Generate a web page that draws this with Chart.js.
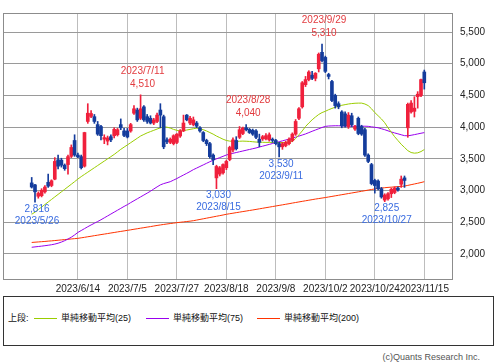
<!DOCTYPE html>
<html>
<head>
<meta charset="utf-8">
<script src="https://cdn.jsdelivr.net/npm/chart.js@4.4.0/dist/chart.umd.min.js"></script>
<style>
  body { margin: 0; width: 496px; height: 362px; background: #fff; position: relative; overflow: hidden;
         font-family: "Liberation Sans", "Noto Sans CJK JP", sans-serif; }
  #wrap { position: absolute; left: 0; top: 0; width: 496px; height: 296px; }
  #legend { position: absolute; left: 3px; top: 296px; width: 489px; height: 48px; border: 1px solid #333; font-size: 9px; color: #111; }
  #legend span { position: absolute; top: 15px; line-height: 12px; white-space: nowrap; }
  #legend i { position: absolute; top: 21px; height: 1px; width: 23px; }
  #copy { position: absolute; right: 16px; top: 352px; font-size: 9px; color: #555; white-space: nowrap; }
</style>
</head>
<body>
<div id="wrap"><canvas id="myChart" width="496" height="296"></canvas></div>
<div id="legend"></div>
<div id="copy">(c)Quants Research Inc.</div>
<script>
// trading days shown on the chart
const dates = [
  '2023/5/25', '2023/5/26', '2023/5/29', '2023/5/30', '2023/5/31',
  '2023/6/1', '2023/6/2', '2023/6/5', '2023/6/6', '2023/6/7', '2023/6/8', '2023/6/9', '2023/6/12', '2023/6/13', '2023/6/14',
  '2023/6/15', '2023/6/16', '2023/6/19', '2023/6/20', '2023/6/21', '2023/6/22', '2023/6/23', '2023/6/26', '2023/6/27',
  '2023/6/28', '2023/6/29', '2023/6/30',
  '2023/7/3', '2023/7/4', '2023/7/5', '2023/7/6', '2023/7/7', '2023/7/10', '2023/7/11', '2023/7/12', '2023/7/13', '2023/7/14',
  '2023/7/18', '2023/7/19', '2023/7/20', '2023/7/21', '2023/7/24', '2023/7/25', '2023/7/26', '2023/7/27', '2023/7/28', '2023/7/31',
  '2023/8/1', '2023/8/2', '2023/8/3', '2023/8/4', '2023/8/7', '2023/8/8', '2023/8/9', '2023/8/10', '2023/8/14', '2023/8/15',
  '2023/8/16', '2023/8/17', '2023/8/18', '2023/8/21', '2023/8/22', '2023/8/23', '2023/8/24', '2023/8/25', '2023/8/28',
  '2023/8/29', '2023/8/30', '2023/8/31',
  '2023/9/1', '2023/9/4', '2023/9/5', '2023/9/6', '2023/9/7', '2023/9/8', '2023/9/11', '2023/9/12', '2023/9/13', '2023/9/14',
  '2023/9/15', '2023/9/19', '2023/9/20', '2023/9/21', '2023/9/22', '2023/9/25', '2023/9/26', '2023/9/27', '2023/9/28', '2023/9/29',
  '2023/10/2', '2023/10/3', '2023/10/4', '2023/10/5', '2023/10/6', '2023/10/10', '2023/10/11', '2023/10/12', '2023/10/13',
  '2023/10/16', '2023/10/17', '2023/10/18', '2023/10/19', '2023/10/20', '2023/10/23', '2023/10/24', '2023/10/25', '2023/10/26',
  '2023/10/27', '2023/10/30', '2023/10/31',
  '2023/11/1', '2023/11/2', '2023/11/6', '2023/11/7', '2023/11/8', '2023/11/9', '2023/11/10', '2023/11/13', '2023/11/14', '2023/11/15'
];

const opens = [
  3121, 3090, 2910, 2920, 2980, 3130, 3080, 3180, 3485, 3480, 3400, 3410, 3540, 3790, 3560, 3535, 3385, 4090, 4170, 4165,
  4040, 4010, 3810, 3780, 3850, 3865, 3880, 4040, 3940, 3940, 3940, 4220, 4270, 4140, 4320, 4165, 4140, 4065, 4090, 4270,
  4165, 3800, 3760, 3740, 3760, 3860, 3940, 4190, 4065, 4040, 4065, 3990, 3915, 3790, 3740, 3560, 3200, 3260, 3280, 3360,
  3490, 3640, 3790, 3840, 3900, 3990, 3965, 3950, 3940, 3810, 3815, 3815, 3800, 3810, 3790, 3740, 3690, 3710, 3740, 3790,
  3890, 4140, 4320, 4670, 4750, 4820, 4770, 4920, 5180, 5100, 4830, 4720, 4500, 4370, 4240, 4210, 4010, 4180, 3970, 4140,
  4010, 3960, 3560, 3410, 3160, 3150, 3030, 2850, 2870, 2950, 2970, 3040, 3100, 3200, 3990, 4240, 4250, 4480, 4500, 4870
];
const highs = [
  3207, 3100, 2980, 3030, 3080, 3260, 3170, 3520, 3560, 3510, 3420, 3560, 3720, 3880, 3590, 3560, 3920, 4370, 4260, 4200,
  4090, 4030, 3880, 3860, 3880, 3990, 3980, 4130, 3980, 3980, 4060, 4340, 4300, 4510, 4340, 4200, 4180, 4140, 4220, 4370,
  4190, 3830, 3830, 3880, 3900, 3960, 4190, 4200, 4170, 4160, 4090, 4010, 3930, 3810, 3760, 3580, 3400, 3380, 3420, 3480,
  3700, 3830, 3850, 4010, 4000, 4040, 3980, 3970, 3960, 3890, 3870, 3900, 3910, 3830, 3810, 3760, 3760, 3780, 3830, 3910,
  4120, 4310, 4720, 4800, 4890, 4880, 4860, 5170, 5310, 5120, 4850, 4740, 4520, 4400, 4260, 4240, 4230, 4220, 4030, 4160,
  4030, 3980, 3580, 3430, 3180, 3170, 3050, 2950, 2970, 3040, 3060, 3060, 3230, 3230, 4380, 4420, 4480, 4560, 4760, 4900
];
const lows = [
  3040, 2816, 2880, 2900, 2960, 3050, 3060, 3170, 3340, 3370, 3320, 3260, 3520, 3540, 3520, 3340, 3370, 4060, 4150, 4060,
  3870, 3800, 3740, 3720, 3770, 3830, 3860, 3960, 3850, 3830, 3920, 4200, 4090, 4120, 4090, 4060, 4050, 4040, 4070, 3990,
  3660, 3740, 3740, 3720, 3740, 3840, 3930, 4100, 4040, 4020, 3990, 3920, 3770, 3710, 3510, 3410, 3030, 3230, 3260, 3330,
  3470, 3610, 3640, 3820, 3880, 3940, 3900, 3870, 3820, 3690, 3790, 3800, 3780, 3760, 3720, 3530, 3650, 3690, 3720, 3770,
  3870, 4120, 4300, 4640, 4730, 4750, 4730, 4870, 5030, 4860, 4760, 4400, 4300, 4290, 3990, 4000, 3980, 4010, 3950, 3880,
  3870, 3540, 3440, 3090, 2960, 3010, 2880, 2825, 2850, 2890, 2950, 2990, 3050, 3050, 3840, 4220, 4160, 4300, 4480, 4600
];
const closes = [
  3056, 2980, 2955, 3005, 3055, 3070, 3155, 3460, 3385, 3400, 3345, 3535, 3680, 3560, 3530, 3360, 3915, 4220, 4215, 4090,
  3890, 3865, 3835, 3830, 3800, 3965, 3960, 3990, 3870, 3845, 4040, 4290, 4115, 4290, 4115, 4090, 4065, 4115, 4190, 4190,
  3690, 3770, 3810, 3865, 3890, 3940, 4065, 4115, 4140, 4115, 4015, 3940, 3790, 3740, 3535, 3485, 3380, 3360, 3410, 3460,
  3680, 3800, 3660, 3960, 3985, 3960, 3915, 3890, 3840, 3760, 3850, 3865, 3880, 3790, 3740, 3690, 3740, 3760, 3810, 3890,
  4090, 4290, 4700, 4750, 4870, 4770, 4850, 5150, 5050, 4880, 4800, 4420, 4340, 4320, 4020, 4020, 4190, 4040, 4010, 3900,
  3890, 3560, 3460, 3110, 3080, 3030, 2900, 2930, 2950, 3020, 3040, 3010, 3180, 3160, 4360, 4380, 4300, 4520, 4750, 4700
];

// moving averages
const ma25 = [
  2626, 2660, 2700, 2740, 2780, 2820, 2860, 2900, 2940, 2980, 3020, 3060, 3100, 3140, 3182, 3220, 3255, 3290, 3325, 3360,
  3395, 3430, 3465, 3500, 3535, 3570, 3610, 3650, 3685, 3720, 3755, 3790, 3825, 3860, 3885, 3910, 3930, 3950, 3970, 3990,
  4005, 4000, 3985, 3965, 3950, 3940, 3945, 3955, 3965, 3975, 3985, 3975, 3960, 3940, 3915, 3890, 3860, 3835, 3810, 3790,
  3780, 3775, 3775, 3778, 3780, 3778, 3775, 3770, 3765, 3763, 3762, 3760, 3760, 3760, 3760, 3758, 3758, 3760, 3765, 3775,
  3820, 3880, 3940, 4010, 4065, 4116, 4160, 4200, 4230, 4250, 4275, 4295, 4315, 4330, 4345, 4355, 4365, 4372, 4377, 4379,
  4379, 4365, 4340, 4290, 4230, 4180, 4130, 4070, 3990, 3920, 3850, 3790, 3730, 3680, 3630, 3600, 3590, 3595, 3615, 3647
];
const ma75 = [
  2106, 2112, 2118, 2124, 2131, 2138, 2146, 2156, 2170, 2188, 2210, 2236, 2265, 2300, 2340, 2370, 2400, 2430, 2458, 2485,
  2512, 2540, 2570, 2600, 2630, 2660, 2690, 2720, 2750, 2778, 2810, 2840, 2870, 2900, 2930, 2960, 2990, 3025, 3058, 3090,
  3110, 3125, 3140, 3165, 3190, 3218, 3245, 3272, 3300, 3330, 3355, 3380, 3405, 3430, 3455, 3478, 3500, 3520, 3540, 3561,
  3575, 3588, 3600, 3612, 3624, 3636, 3648, 3660, 3672, 3687, 3700, 3714, 3728, 3742, 3756, 3770, 3784, 3798, 3812, 3825,
  3842, 3859, 3876, 3893, 3914, 3935, 3955, 3975, 3995, 4012, 4018, 4020, 4022, 4022, 4020, 4018, 4016, 4015, 4015, 4015,
  4015, 4015, 4013, 4005, 3998, 3990, 3975, 3960, 3942, 3924, 3909, 3895, 3880, 3866, 3864, 3872, 3882, 3893, 3904, 3914
];
const ma200 = [
  2182, 2186, 2190, 2194, 2198, 2203, 2207, 2212, 2217, 2222, 2227, 2232, 2237, 2242, 2247, 2255, 2263, 2272, 2280, 2289,
  2297, 2306, 2314, 2322, 2331, 2339, 2348, 2356, 2364, 2373, 2381, 2390, 2398, 2407, 2415, 2424, 2432, 2441, 2450, 2458,
  2466, 2473, 2480, 2487, 2494, 2500, 2506, 2512, 2518, 2525, 2535, 2545, 2555, 2565, 2575, 2585, 2595, 2605, 2615, 2626,
  2635, 2643, 2652, 2660, 2669, 2677, 2686, 2694, 2703, 2712, 2721, 2730, 2739, 2748, 2757, 2766, 2775, 2784, 2793, 2803,
  2812, 2821, 2830, 2839, 2848, 2857, 2866, 2874, 2882, 2890, 2899, 2908, 2917, 2926, 2935, 2944, 2953, 2962, 2971, 2980,
  2989, 2998, 3008, 3017, 3026, 3034, 3040, 3045, 3050, 3054, 3058, 3063, 3067, 3071, 3082, 3093, 3104, 3115, 3127, 3140
];

const tickLabels = ['2023/6/14', '2023/7/5', '2023/7/27', '2023/8/18', '2023/9/8', '2023/10/2', '2023/10/24', '2023/11/15'];
const yTicks = [2000, 2500, 3000, 3500, 4000, 4500, 5000, 5500];
const highMarks = ['2023/7/11', '2023/8/28', '2023/9/29'];
const lowMarks = ['2023/5/26', '2023/8/15', '2023/9/11', '2023/10/27'];
const maNames = ['単純移動平均(25)', '単純移動平均(75)', '単純移動平均(200)'];
const maColors = ['#9acd00', '#9900ee', '#ff3300'];

const UP = '#f0203c';
const DOWN = '#143c9c';
const FONT = '"Liberation Sans", "Noto Sans CJK JP", sans-serif';

// legend box below the chart
const legend = document.getElementById('legend');
legend.innerHTML = '<span style="left:4px">上段:</span>' +
  maNames.map((name, k) => {
    const lx = [30, 142, 253][k];
    return `<i style="left:${lx}px;background:${maColors[k]}"></i><span style="left:${lx + 27}px">${name}</span>`;
  }).join('');

const candleColors = closes.map((c, i) => c >= opens[i] ? UP : DOWN);

// frame around the plot area
const frame = {
  id: 'frame',
  beforeDatasetsDraw(chart) {
    const { ctx, chartArea: a } = chart;
    ctx.save();
    ctx.strokeStyle = '#8c8c8c';
    ctx.lineWidth = 1;
    ctx.strokeRect(Math.round(a.left) + 0.5, Math.round(a.top) + 0.5, Math.round(a.width) - 1, Math.round(a.height) - 1);
    ctx.restore();
  }
};

// high / low notes
const notes = {
  id: 'notes',
  afterDatasetsDraw(chart) {
    const { ctx } = chart;
    const xs = chart.scales.x, ys = chart.scales.y;
    ctx.save();
    ctx.font = '10px ' + FONT;
    ctx.textAlign = 'center';
    ctx.textBaseline = 'middle';
    highMarks.forEach(d => {
      const i = dates.indexOf(d);
      const x = xs.getPixelForValue(i) + 2, y = ys.getPixelForValue(highs[i]);
      ctx.fillStyle = '#e23a3e';
      ctx.fillText(highs[i].toLocaleString('en-US'), x, y - 11);
      ctx.fillText(d, x, y - 24);
    });
    lowMarks.forEach(d => {
      const i = dates.indexOf(d);
      const x = xs.getPixelForValue(i) + 2, y = ys.getPixelForValue(lows[i]);
      ctx.fillStyle = '#3a6ce0';
      ctx.fillText(lows[i].toLocaleString('en-US'), x, y + 7);
      ctx.fillText(d, x, y + 19);
    });
    ctx.restore();
  }
};

function maLine(values, color) {
  return {
    type: 'line',
    data: values.map((v, i) => ({ x: i, y: v })),
    borderColor: color,
    borderWidth: 1,
    pointRadius: 0,
    tension: 0,
    order: 3
  };
}

const ctx = document.getElementById('myChart');

new Chart(ctx, {
  type: 'bar',
  data: {
    datasets: [
      {
        data: dates.map((d, i) => ({ x: i, y: [lows[i], highs[i]] })),
        backgroundColor: candleColors,
        barThickness: 1,
        grouped: false,
        order: 1
      },
      {
        data: dates.map((d, i) => ({ x: i, y: [opens[i], closes[i]] })),
        backgroundColor: candleColors,
        barThickness: 3,
        minBarLength: 1,
        grouped: false,
        order: 0
      },
      maLine(ma25, maColors[0]),
      maLine(ma75, maColors[1]),
      maLine(ma200, maColors[2])
    ]
  },
  options: {
    responsive: false,
    animation: false,
    layout: { padding: { left: 3, top: 2, right: 0, bottom: 0 } },
    plugins: { legend: { display: false }, tooltip: { enabled: false } },
    scales: {
      x: {
        type: 'linear',
        min: -8.7,
        max: 127.7,
        offset: false,
        grid: { offset: false, color: '#bdbdbd', drawTicks: false },
        border: { display: false },
        afterBuildTicks: axis => { axis.ticks = tickLabels.map(t => ({ value: dates.indexOf(t) })); },
        afterFit: axis => { axis.height = 16; },
        ticks: {
          autoSkip: false, maxRotation: 0, padding: 3, color: '#222',
          font: { size: 10, family: FONT },
          callback: v => dates[v]
        }
      },
      y: {
        position: 'right',
        min: 1590,
        max: 5800,
        grid: { color: '#9a9a9a', drawTicks: false },
        border: { display: false },
        afterBuildTicks: axis => { axis.ticks = yTicks.map(v => ({ value: v })); },
        afterFit: axis => { axis.width = 43; },
        ticks: {
          padding: 7, color: '#222',
          font: { size: 10, family: FONT },
          callback: v => v.toLocaleString('en-US')
        }
      }
    }
  },
  plugins: [frame, notes]
});
</script>
</body>
</html>
